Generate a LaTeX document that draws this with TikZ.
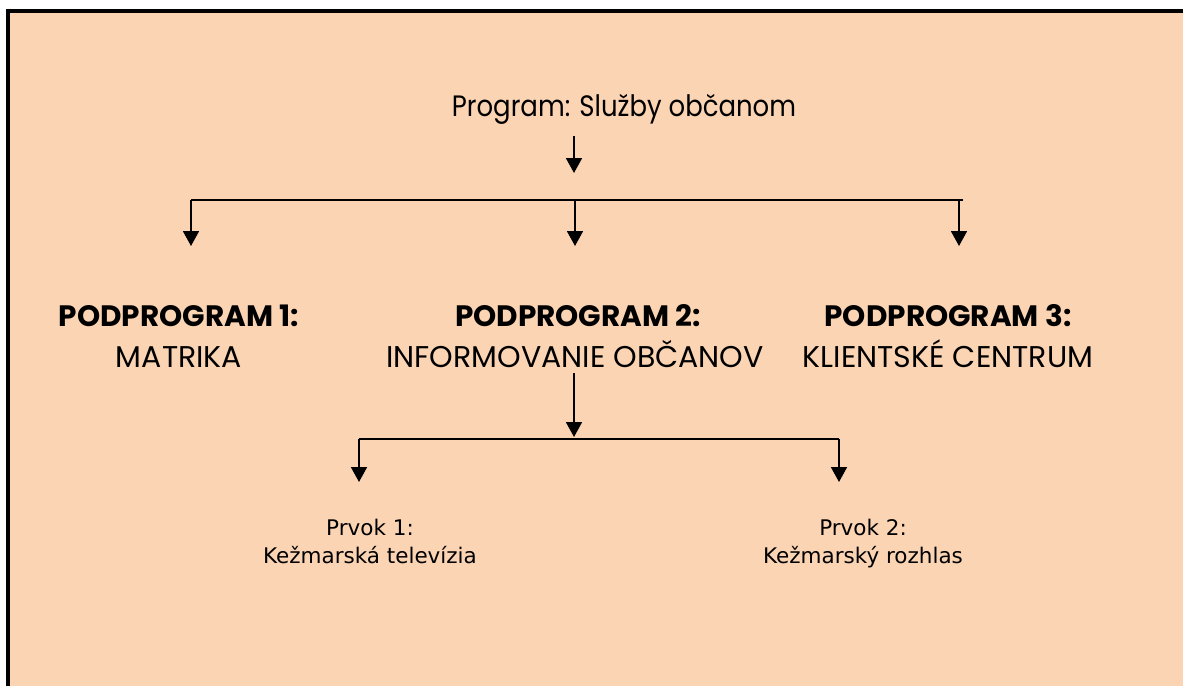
\documentclass[tikz,border=0pt]{standalone}
\usepackage{fontspec}
\setmainfont{Poppins}
\newfontfamily\progfont[FakeStretch=0.88]{Poppins}
\newfontfamily\verd{DejaVu Sans}
\usetikzlibrary{arrows.meta}
\usetikzlibrary{positioning}
\definecolor{peach}{RGB}{251,212,180}

\begin{document}
\begin{tikzpicture}[x=1pt,y=-1pt,
  every node/.style={inner sep=0pt,anchor=base},
  progtext/.style={font=\progfont\fontsize{29.5}{34}\selectfont},
  podhead/.style={font=\fontsize{29.5}{34}\selectfont\bfseries},
  podname/.style={font=\fontsize{30}{34}\selectfont},
  prvtext/.style={font=\verd\fontsize{21.5}{26}\selectfont},
  arr/.style={line width=1.8pt,-{Triangle[width=16pt,length=15pt]}},
  bar/.style={line width=1.8pt}]
  \useasboundingbox (0,0) rectangle (1183,686);
  \fill[peach] (6,9) rectangle (1183,686);
  \fill (6,9) rectangle (10,686);
  \fill (6,9) rectangle (1183,13);
  % texts
  \node[progtext] (prog) at (624,116) {Program: Služby občanom};
  \node[podhead] (head1) at (179,326) {PODPROGRAM 1:};
  \node[podname] (name1) at (179,367) {MATRIKA};
  \node[podhead] (head2) at (578,326) {PODPROGRAM 2:};
  \node[podname] (name2) at (575,367) {INFORMOVANIE OBČANOV};
  \node[podhead] (head3) at (948,326) {PODPROGRAM 3:};
  \node[podname] (name3) at (948,367) {KLIENTSKÉ CENTRUM};
  \node[prvtext] (prvok1) at (370,535) {Prvok 1:};
  \node[prvtext] (tv) at (370,563) {Kežmarská televízia};
  \node[prvtext] (prvok2) at (863,535) {Prvok 2:};
  \node[prvtext] (rozhlas) at (863,563) {Kežmarský rozhlas};
  % connector points
  \coordinate (top0) at (574,136);
  \coordinate (top1) at (574,173);
  \coordinate (barL) at (191,200);
  \coordinate (barM) at (575,200);
  \coordinate (barR) at (959,200);
  \coordinate (barE) at (963,200);
  \coordinate (tip1) at (191,246);
  \coordinate (tip2) at (575,246);
  \coordinate (tip3) at (959,246);
  \coordinate (mid0) at (574,373);
  \coordinate (mid1) at (574,437);
  \coordinate (lowL) at (359,439);
  \coordinate (lowR) at (839,439);
  \coordinate (tip4) at (359,482);
  \coordinate (tip5) at (839,482);
  % connectors
  \draw[arr] (top0)--(top1);
  \draw[bar] (barL)--(barE);
  \draw[arr] (barL)--(tip1);
  \draw[arr] (barM)--(tip2);
  \draw[arr] (barR)--(tip3);
  \draw[arr] (mid0)--(mid1);
  \draw[bar] (lowL)--(lowR);
  \draw[arr] (lowL)--(tip4);
  \draw[arr] (lowR)--(tip5);
\end{tikzpicture}
\end{document}
